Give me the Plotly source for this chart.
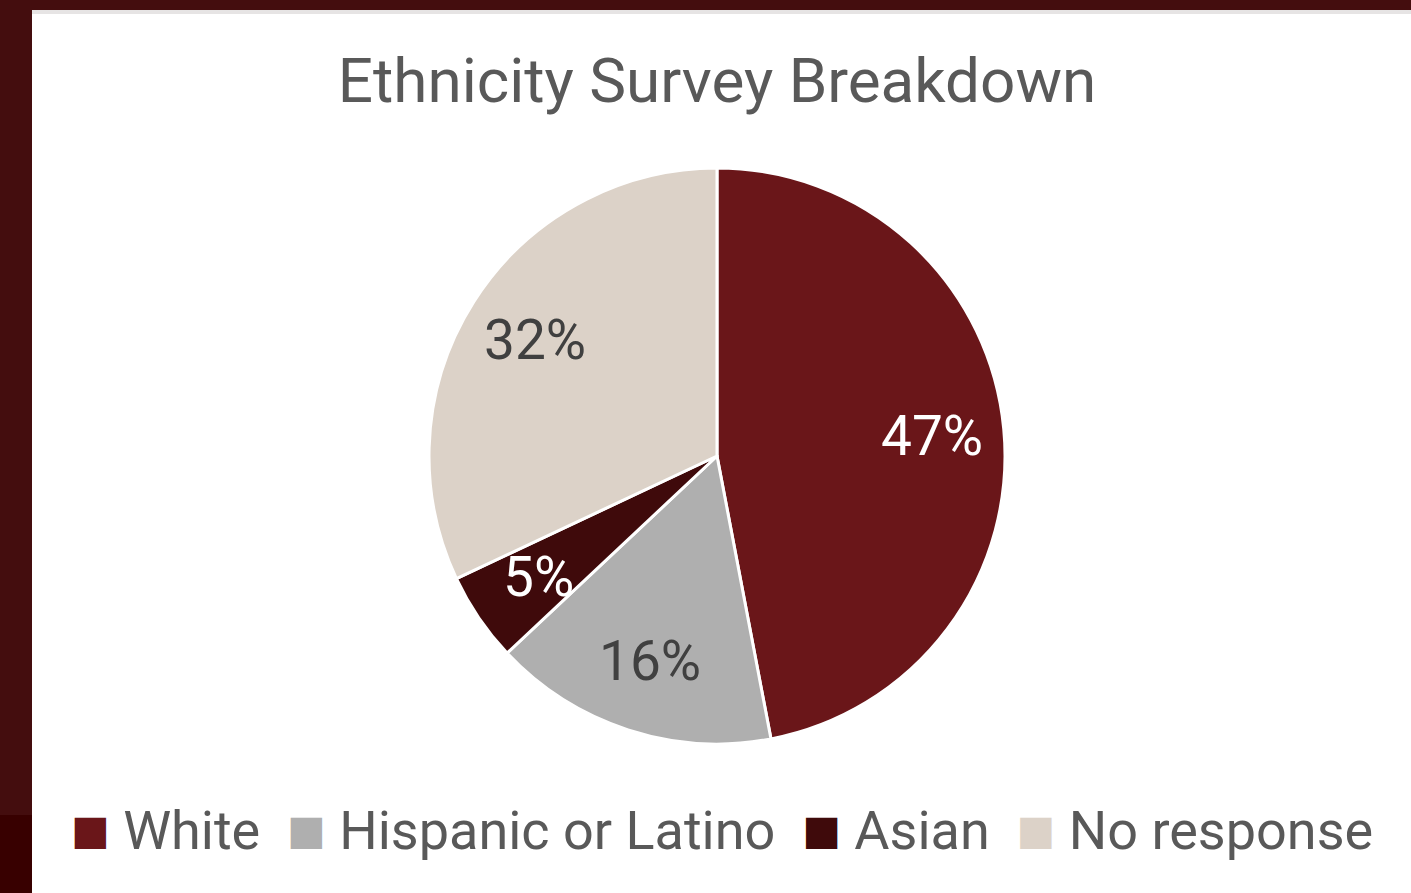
import math
import plotly.graph_objects as go

categories = ["White", "Hispanic or Latino", "Asian", "No response"]
values = [47, 16, 5, 32]
colors = ["#6a1619", "#afafaf", "#3f0a0b", "#dcd2c8"]
text_colors = ["#ffffff", "#404040", "#ffffff", "#404040"]

W, H = 1411, 893
CX, CY, R = 717, 456, 288  # pie centre / radius in pixels (layout)
LABEL_FRAC = 0.75

fig = go.Figure()
fig.add_trace(go.Pie(
    labels=categories,
    values=values,
    sort=False,
    direction="clockwise",
    rotation=0,
    marker=dict(colors=colors, line=dict(color="#ffffff", width=3)),
    textinfo="none",
    domain=dict(x=[(CX - R) / W, (CX + R) / W], y=[1 - (CY + R) / H, 1 - (CY - R) / H]),
    showlegend=False,
    hoverinfo="label+percent",
))

# percentage labels placed at the middle angle of each slice (derived from values)
total = sum(values)
annotations = []
cum = 0.0
for v, tc in zip(values, text_colors):
    mid = (cum + v / 2) / total * 2 * math.pi
    cum += v
    px = CX + LABEL_FRAC * R * math.sin(mid)
    py = CY - LABEL_FRAC * R * math.cos(mid)
    annotations.append(dict(
        text=f"{round(100 * v / total)}%", xref="paper", yref="paper",
        x=px / W, y=1 - py / H, xanchor="center", yanchor="middle",
        showarrow=False, font=dict(family="Roboto", size=55, color=tc)))

# custom legend line built from categories / colors
parts = []
for c, col in zip(categories, colors):
    parts.append(
        f'<span style="color:{col};font-size:41px;font-family:DejaVu Sans;baseline-shift:5px">■</span>'
        f' {c}'
    )
legend_text = "  ".join(parts)
annotations.append(dict(text=legend_text, xref="paper", yref="paper",
                        x=722 / W, y=1 - 830 / H, xanchor="center", yanchor="middle",
                        showarrow=False,
                        font=dict(family="Roboto", size=54, color="#595959")))

shapes = [
    dict(type="rect", xref="paper", yref="paper", x0=0, x1=1, y0=1 - 10 / H, y1=1,
         fillcolor="#440d0e", line=dict(width=0), layer="above"),
    dict(type="rect", xref="paper", yref="paper", x0=0, x1=1, y0=1 - 14 / H, y1=1 - 10 / H,
         fillcolor="#e6e4e4", line=dict(width=0), layer="above"),
    dict(type="rect", xref="paper", yref="paper", x0=0, x1=32 / W, y0=1 - 815 / H, y1=1,
         fillcolor="#440d0e", line=dict(width=0), layer="above"),
    dict(type="rect", xref="paper", yref="paper", x0=0, x1=32 / W, y0=0, y1=1 - 815 / H,
         fillcolor="#380000", line=dict(width=0), layer="above"),
]

fig.update_layout(
    width=W, height=H,
    margin=dict(l=0, r=0, t=0, b=0),
    paper_bgcolor="#ffffff",
    plot_bgcolor="#ffffff",
    title=dict(text="Ethnicity Survey Breakdown", x=717 / W, xanchor="center",
               y=1 - 80 / H, yanchor="middle",
               font=dict(family="Roboto", size=62, color="#595959")),
    shapes=shapes,
    annotations=annotations,
)

fig.write_html("out.html", config={"displayModeBar": False},
               post_script="document.body.style.margin='0';document.body.style.overflow='hidden';")
